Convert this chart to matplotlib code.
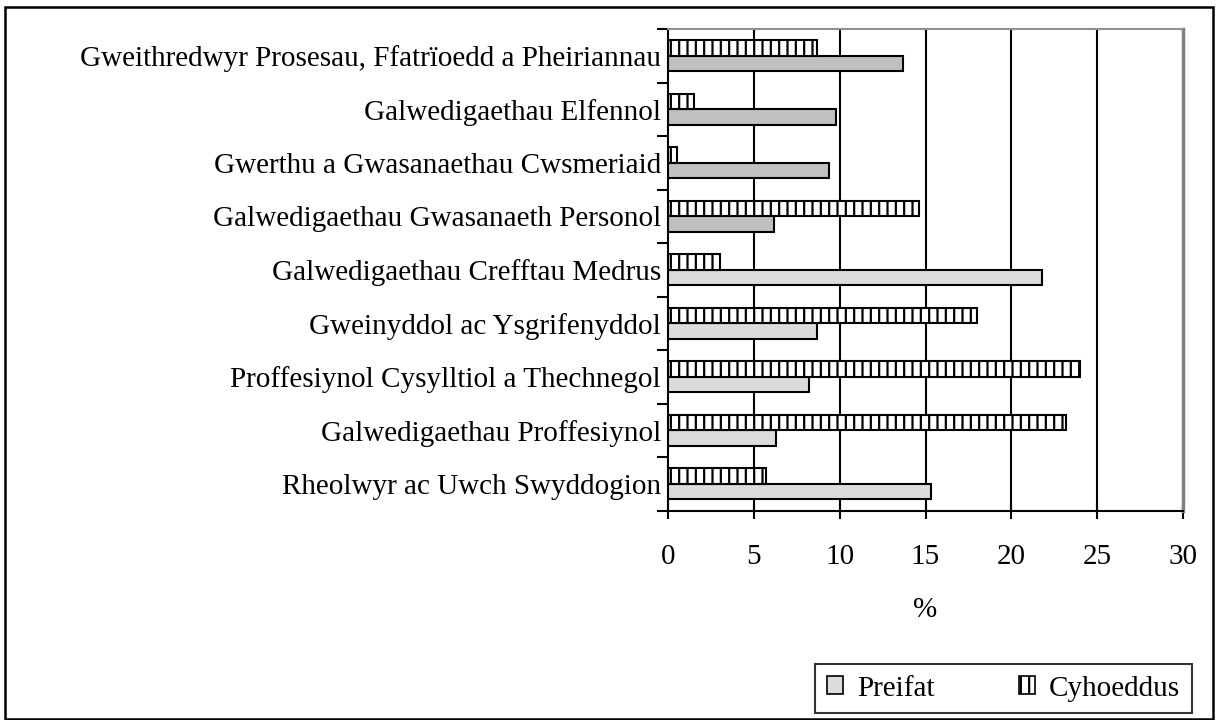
import matplotlib
matplotlib.use("Agg")
import matplotlib.pyplot as plt
from matplotlib.patches import Patch, Rectangle
import numpy as np

plt.rcParams['font.family'] = ['Liberation Serif', 'DejaVu Serif']
plt.rcParams['hatch.linewidth'] = 1.6
plt.rcParams['hatch.color'] = '#404040'

# categories listed bottom-to-top as drawn
categories = [
    "Rheolwyr ac Uwch Swyddogion",
    "Galwedigaethau Proffesiynol",
    "Proffesiynol Cysylltiol a Thechnegol",
    "Gweinyddol ac Ysgrifenyddol",
    "Galwedigaethau Crefftau Medrus",
    "Galwedigaethau Gwasanaeth Personol",
    "Gwerthu a Gwasanaethau Cwsmeriaid",
    "Galwedigaethau Elfennol",
    "Gweithredwyr Prosesau, Ffatrïoedd a Pheiriannau",
]
preifat = [15.3, 6.3, 8.2, 8.7, 21.8, 6.2, 9.4, 9.8, 13.7]
cyhoeddus = [5.7, 23.2, 24.0, 18.0, 3.0, 14.6, 0.5, 1.5, 8.7]
series_names = ["Preifat", "Cyhoeddus"]
xticks = [0, 5, 10, 15, 20, 25, 30]
xlabel = "%"

preifat_colors = ['#dcdcdc'] * 5 + ['#c0c0c0'] * 4
FS = 21

fig = plt.figure(figsize=(12.17, 7.2), dpi=100)
ax = fig.add_axes([668/1217, 1-510.7/720, (1183-668)/1217, (510.7-29)/720])

y = np.arange(len(categories))
h = 0.29
ax.barh(y - h/2, preifat, height=h, color=preifat_colors, edgecolor='black', linewidth=1.5, zorder=3)
ax.barh(y + h/2, cyhoeddus, height=h, color='white', edgecolor='black', linewidth=1.5,
        hatch='||', zorder=3)

ax.set_xlim(0, 30)
ax.set_ylim(-0.5, len(categories) - 0.5)
ax.set_xticks(xticks)
ax.set_xticklabels([str(t) for t in xticks], fontsize=FS)
ax.tick_params(axis='x', direction='inout', length=12, width=1.5, pad=18)
ax.set_yticks(np.arange(-0.5, len(categories), 1.0))
ax.set_yticklabels([])
ax.tick_params(axis='y', which='major', direction='out', length=8, width=1.5)
ax.set_yticks(y, minor=True)
ax.set_yticklabels(categories, minor=True, fontsize=FS)
ax.tick_params(axis='y', which='minor', length=0, pad=5)

for t in xticks[1:-1]:
    ax.axvline(t, color='black', linewidth=1.5, zorder=1)

ax.spines['left'].set_linewidth(1.5)
ax.spines['bottom'].set_linewidth(1.5)
ax.spines['top'].set_color('#909090')
ax.spines['top'].set_linewidth(1.5)
ax.spines['right'].set_color('#808080')
ax.spines['right'].set_linewidth(2.5)

fig.text(925/1217, 1-610/720, xlabel, fontsize=FS, ha='center', va='center')

# outer frame
fig.patches.append(Rectangle((5/1217, 1/720), (1213-5)/1217, (719-7)/720,
                             transform=fig.transFigure, fill=False,
                             edgecolor='black', linewidth=1.8))

handles = [Patch(facecolor='#dcdcdc', edgecolor='black', linewidth=1.2, label=series_names[0]),
           Patch(facecolor='white', edgecolor='black', linewidth=1.2, hatch='||', label=series_names[1])]
leg = fig.legend(handles=handles, ncol=2, loc='center',
                 bbox_to_anchor=(815/1217, 1-715/720, (1192-815)/1217, (715-662)/720),
                 mode='expand', fontsize=FS, frameon=True, fancybox=False,
                 borderaxespad=0,
                 handlelength=0.55, handleheight=0.55, handletextpad=0.5,
                 columnspacing=2.0, borderpad=0.4)
leg.get_frame().set_edgecolor('black')
leg.get_frame().set_linewidth(1.5)

fig.savefig("out.png", dpi=100)
